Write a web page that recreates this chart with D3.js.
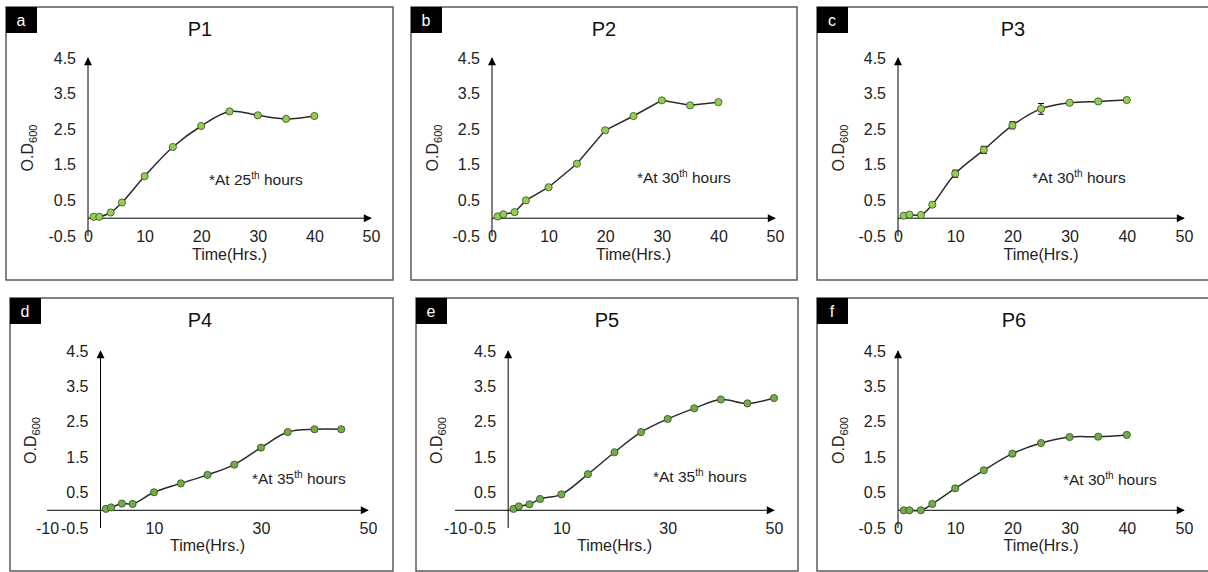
<!DOCTYPE html>
<html>
<head>
<meta charset="utf-8">
<script src="https://cdn.jsdelivr.net/npm/d3@7"></script>
<style>
  body { margin: 0; background: #fff; }
  svg { display: block; font-family: "Liberation Sans", Arial, sans-serif; }
</style>
</head>
<body>
<div id="canvas"></div>
<script>
// sampling times (hours)
const timeStd = [1, 2, 4, 6, 10, 15, 20, 25, 30, 35, 40];
const timeP4 = [1, 2, 4, 6, 10, 15, 20, 25, 30, 35, 40, 45];
const timeP5 = [1, 2, 4, 6, 10, 15, 20, 25, 30, 35, 40, 45, 50];

// O.D600 readings
const odP1 = [0.04, 0.04, 0.16, 0.44, 1.18, 2.0, 2.59, 3.0, 2.89, 2.79, 2.87];
const odP2 = [0.05, 0.11, 0.17, 0.5, 0.87, 1.53, 2.47, 2.87, 3.31, 3.17, 3.26];
const odP3 = [0.07, 0.1, 0.09, 0.38, 1.25, 1.92, 2.61, 3.07, 3.24, 3.28, 3.32];
const errP3 = [0.02, 0.02, 0.02, 0.03, 0.1, 0.1, 0.1, 0.15, 0.03, 0.03, 0.06];
const odP4 = [0.04, 0.08, 0.19, 0.18, 0.51, 0.76, 1.0, 1.29, 1.77, 2.21, 2.29, 2.29];
const odP5 = [0.04, 0.11, 0.17, 0.32, 0.45, 1.02, 1.64, 2.21, 2.58, 2.88, 3.13, 3.02, 3.17];
const odP6 = [0, 0, 0, 0.18, 0.62, 1.13, 1.6, 1.9, 2.07, 2.08, 2.13];

const tags = ["a", "b", "c", "d", "e", "f"];
const titles = ["P1", "P2", "P3", "P4", "P5", "P6"];
const peakHours = [25, 30, 30, 35, 35, 30];

const ticksStd = [0, 10, 20, 30, 40, 50];
const ticksWide = [-10, 10, 30, 50];
const yTicks = [-0.5, 0.5, 1.5, 2.5, 3.5, 4.5];

const width = 1208;
const height = 572;
const ff = '"Liberation Sans", Arial, sans-serif';

const svg = d3.select("#canvas").append("svg")
    .attr("width", width)
    .attr("height", height);

svg.append("defs").append("marker")
    .attr("id", "arr")
    .attr("viewBox", "0 0 10 10")
    .attr("refX", 9).attr("refY", 5)
    .attr("markerUnits", "userSpaceOnUse")
    .attr("markerWidth", 9).attr("markerHeight", 8)
    .attr("orient", "auto")
  .append("path")
    .attr("d", "M0,0L10,5L0,10z")
    .attr("fill", "#000");

const panels = [
  { t: timeStd, od: odP1, left: 6,   top: 7,   w: 387, xDom: [0, 50],   ticks: ticksStd,  xr: [82, 365], yr: [229, 51], titleX: 194, odX: 27, ann: [203, 178], timeY: 253, curve: d3.curveCatmullRom, dot: "#8fd14f" },
  { t: timeStd, od: odP2, left: 411, top: 7,   w: 386, xDom: [0, 50],   ticks: ticksStd,  xr: [81, 364], yr: [229, 51], titleX: 193, odX: 27, ann: [226, 176], timeY: 253, curve: d3.curveLinear,     dot: "#8fd14f" },
  { t: timeStd, od: odP3, err: errP3, left: 817, top: 7, w: 400, xDom: [0, 50], ticks: ticksStd, xr: [81, 367], yr: [229, 51], titleX: 196, odX: 27, ann: [215, 176], timeY: 253, curve: d3.curveCatmullRom, dot: "#8fd14f" },
  { t: timeP4,  od: odP4, left: 10,  top: 298, w: 383, xDom: [-10, 50], ticks: ticksWide, xr: [37, 358], yr: [230, 53], titleX: 190, odX: 26, ann: [242, 186], timeY: 253, curve: d3.curveCatmullRom, dot: "#70ad47" },
  { t: timeP5,  od: odP5, left: 416, top: 298, w: 382, xDom: [-10, 50], ticks: ticksWide, xr: [39, 358], yr: [230, 53], titleX: 191, odX: 26, ann: [237, 184], timeY: 253, curve: d3.curveCatmullRom, dot: "#70ad47" },
  { t: timeStd, od: odP6, left: 817, top: 298, w: 400, xDom: [0, 50],   ticks: ticksStd,  xr: [81, 367], yr: [230, 53], titleX: 197, odX: 27, ann: [246, 187], timeY: 253, curve: d3.curveCatmullRom, dot: "#70ad47" }
];

panels.forEach((p, i) => drawPanel(p, i));

function drawPanel(p, i)
{
    const g = svg.append("g").attr("transform", `translate(${p.left},${p.top})`);

    g.append("rect")
        .attr("width", p.w).attr("height", 273)
        .attr("fill", "none")
        .attr("stroke", "#5a5a5a")
        .attr("stroke-width", 1.5);

    g.append("rect").attr("width", 31).attr("height", 26).attr("fill", "#000");
    g.append("text")
        .attr("x", 15).attr("y", 19)
        .attr("text-anchor", "middle")
        .attr("fill", "#fff")
        .style("font-size", "16px")
        .text(tags[i]);

    g.append("text")
        .attr("x", p.titleX).attr("y", 29)
        .attr("text-anchor", "middle")
        .attr("fill", "#111")
        .style("font-size", "20px")
        .text(titles[i]);

    const x = d3.scaleLinear().domain(p.xDom).range(p.xr);
    const y = d3.scaleLinear().domain([-0.5, 4.5]).range(p.yr);

    // axis lines with arrows
    g.append("line")
        .attr("x1", x(p.xDom[0])).attr("y1", y(0))
        .attr("x2", x(p.xDom[1])).attr("y2", y(0))
        .attr("stroke", "#000").attr("stroke-width", 1)
        .attr("marker-end", "url(#arr)");
    g.append("line")
        .attr("x1", x(0)).attr("y1", y(-0.5))
        .attr("x2", x(0)).attr("y2", y(4.5))
        .attr("stroke", "#000").attr("stroke-width", 1)
        .attr("marker-end", "url(#arr)");

    // x tick labels sit on the -0.5 line
    const xa = g.append("g")
        .attr("transform", `translate(0,${y(-0.5)})`)
        .call(d3.axisBottom(x).tickValues(p.ticks).tickSize(0).tickFormat(d => String(d)));
    xa.select(".domain").remove();
    xa.attr("font-size", 16).attr("font-family", ff);
    xa.selectAll("text").attr("y", 0).attr("dy", "0.35em").attr("fill", "#222");

    const ya = g.append("g")
        .attr("transform", `translate(${x(0)},0)`)
        .call(d3.axisLeft(y).tickValues(yTicks).tickSize(0).tickPadding(12).tickFormat(d => d.toFixed(1)));
    ya.select(".domain").remove();
    ya.attr("font-size", 16).attr("font-family", ff);
    ya.selectAll("text").attr("fill", "#222");

    // axis titles
    const od = g.append("text")
        .attr("transform", `translate(${p.odX},${(p.yr[0] + p.yr[1]) / 2 + 1}) rotate(-90)`)
        .attr("text-anchor", "middle")
        .attr("fill", "#222")
        .style("font-size", "16px");
    od.append("tspan").text("O.D");
    od.append("tspan").attr("dy", 4).style("font-size", "11px").text("600");

    g.append("text")
        .attr("x", (p.xr[0] + p.xr[1]) / 2)
        .attr("y", p.timeY)
        .attr("text-anchor", "middle")
        .attr("fill", "#222")
        .style("font-size", "16px")
        .text("Time(Hrs.)");

    const ann = g.append("text")
        .attr("x", p.ann[0]).attr("y", p.ann[1])
        .attr("fill", "#222")
        .style("font-size", "15.5px");
    ann.append("tspan").text("*At " + peakHours[i]);
    ann.append("tspan").attr("dy", -6).style("font-size", "10px").text("th");
    ann.append("tspan").attr("dy", 6).text(" hours");

    const pts = p.t.map((d, k) => ({ t: d, v: p.od[k], e: p.err ? p.err[k] : 0 }));

    g.append("path")
        .datum(pts)
        .attr("fill", "none")
        .attr("stroke", "#2a2a2a")
        .attr("stroke-width", 1.5)
        .attr("d", d3.line().x(d => x(d.t)).y(d => y(d.v)).curve(p.curve));

    if (p.err) {
        const eb = g.selectAll(".err").data(pts).enter().append("g").attr("class", "err");
        eb.append("line")
            .attr("x1", d => x(d.t)).attr("x2", d => x(d.t))
            .attr("y1", d => y(d.v - d.e)).attr("y2", d => y(d.v + d.e))
            .attr("stroke", "#000");
        [-1, 1].forEach(s => {
            eb.append("line")
                .attr("x1", d => x(d.t) - 3).attr("x2", d => x(d.t) + 3)
                .attr("y1", d => y(d.v + s * d.e)).attr("y2", d => y(d.v + s * d.e))
                .attr("stroke", "#000");
        });
    }

    g.selectAll(".dot").data(pts).enter().append("circle")
        .attr("class", "dot")
        .attr("cx", d => x(d.t))
        .attr("cy", d => y(d.v))
        .attr("r", 3.6)
        .attr("fill", p.dot)
        .attr("stroke", "#3a4a2a")
        .attr("stroke-width", 0.8);
}
</script>
</body>
</html>
